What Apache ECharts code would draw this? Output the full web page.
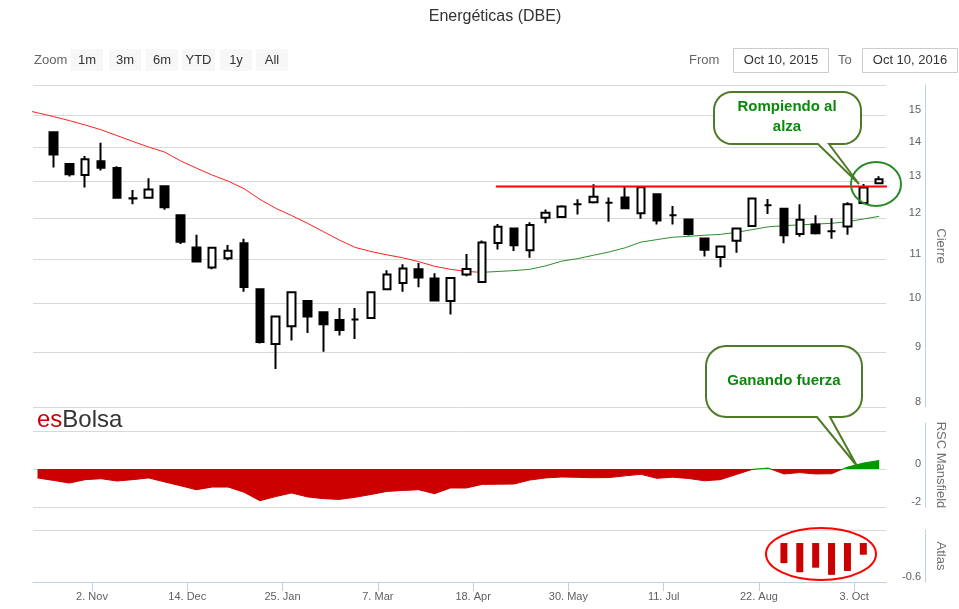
<!DOCTYPE html>
<html><head><meta charset="utf-8">
<script src="https://cdn.jsdelivr.net/npm/echarts@6/dist/echarts.min.js"></script>
<style>html,body{margin:0;padding:0;background:#fff}#c{width:959px;height:609px}</style>
</head><body><div id="c"></div>
<script>
// ---- categories (weekly, Fridays) ----
const weekDates = ['2015-10-16','2015-10-23','2015-10-30','2015-11-06','2015-11-13','2015-11-20','2015-11-27',
 '2015-12-04','2015-12-11','2015-12-18','2015-12-25','2016-01-01','2016-01-08','2016-01-15','2016-01-22','2016-01-29',
 '2016-02-05','2016-02-12','2016-02-19','2016-02-26','2016-03-04','2016-03-11','2016-03-18','2016-03-25',
 '2016-04-01','2016-04-08','2016-04-15','2016-04-22','2016-04-29','2016-05-06','2016-05-13','2016-05-20','2016-05-27',
 '2016-06-03','2016-06-10','2016-06-17','2016-06-24','2016-07-01','2016-07-08','2016-07-15','2016-07-22','2016-07-29',
 '2016-08-05','2016-08-12','2016-08-19','2016-08-26','2016-09-02','2016-09-09','2016-09-16','2016-09-23','2016-09-30',
 '2016-10-07','2016-10-14'];
const xTickDates = ['2015-11-02','2015-12-14','2016-01-25','2016-03-07','2016-04-18','2016-05-30','2016-07-11','2016-08-22','2016-10-03'];
const MONTHS = ['Jan','Feb','Mar','Apr','May','Jun','Jul','Aug','Sep','Oct','Nov','Dec'];

// ---- candles ----
const open  = [14.45,13.50,13.18,13.58,13.38,12.54,12.55,12.87,12.09,11.28,10.80,11.02,11.38,10.31,9.16,9.52,10.05,9.81,9.65,9.66,9.69,10.31,10.45,10.76,10.55,10.05,10.64,10.47,11.39,11.75,11.21,12.02,12.04,12.38,12.43,12.42,12.56,12.14,12.65,12.09,11.98,11.50,11.05,11.44,11.81,12.35,12.26,11.61,11.85,11.68,11.80,12.41,12.95];
const close = [13.78,13.20,13.64,13.39,12.55,12.53,12.78,12.30,11.42,10.94,11.27,11.20,10.36,9.20,9.72,10.24,9.72,9.56,9.44,9.66,10.24,10.64,10.78,10.57,10.06,10.56,10.77,11.40,11.79,11.33,11.84,12.15,12.32,12.38,12.58,12.42,12.27,12.84,11.95,12.09,11.61,11.22,11.30,11.75,12.53,12.35,11.58,11.97,11.63,11.68,12.38,12.83,13.06];
const low   = [13.40,13.14,12.83,13.31,12.53,12.38,12.55,12.23,11.36,10.94,10.76,10.97,10.25,9.17,8.68,9.23,9.38,9.01,9.33,9.26,9.69,10.31,10.25,10.35,10.06,9.76,10.60,10.47,11.23,11.19,11.03,11.88,12.04,12.11,12.40,11.92,12.27,12.00,11.85,11.85,11.57,11.06,10.81,11.15,11.81,12.12,11.38,11.54,11.60,11.49,11.59,12.38,12.95];
const high  = [14.45,13.50,13.73,14.13,13.43,12.76,13.09,12.87,12.09,11.59,11.27,11.34,11.49,10.31,9.72,10.26,10.05,9.81,9.90,9.90,10.26,10.74,10.88,10.91,10.67,10.56,11.12,11.45,11.86,11.75,11.91,12.24,12.35,12.51,12.92,12.56,12.85,12.86,12.65,12.33,11.98,11.50,11.30,11.75,12.53,12.52,12.27,12.38,12.09,12.01,12.43,12.93,13.15];

// ---- moving average (red while price below, green after) ----
const maBearDates = ['2015-10-02','2015-10-09'].concat(weekDates.slice(0, 28));
const maBear = [15.19,15.07,14.95,14.82,14.68,14.53,14.35,14.17,14.00,13.85,13.59,13.38,13.18,13.01,12.80,12.51,12.27,12.08,11.88,11.67,11.46,11.28,11.18,11.10,11.03,10.94,10.83,10.76,10.71,10.69];
const maBullDates = weekDates.slice(27);
const maBull = [10.69,10.71,10.73,10.76,10.84,10.95,11.01,11.09,11.17,11.27,11.41,11.47,11.53,11.55,11.58,11.60,11.65,11.72,11.79,11.82,11.84,11.86,11.88,11.92,11.99,12.06];

// ---- resistance ----
const resistDates = ['2016-04-28','2016-10-25'];
const resistLevel = 12.86;

// ---- RSC Mansfield ----
const rscDates = ['2015-10-09'].concat(weekDates);
const rsc = [-0.47,-0.60,-0.74,-0.56,-0.51,-0.63,-0.56,-0.47,-0.68,-0.88,-1.09,-0.95,-0.95,-1.22,-1.67,-1.45,-1.26,-1.47,-1.56,-1.60,-1.49,-1.34,-1.18,-1.13,-1.09,-1.30,-1.00,-1.00,-0.81,-0.80,-0.79,-0.58,-0.47,-0.42,-0.44,-0.46,-0.45,-0.36,-0.28,-0.49,-0.43,-0.50,-0.62,-0.56,-0.29,-0.02,0.05,-0.26,-0.19,-0.26,-0.25,0.10,0.31,0.45];

// ---- Atlas ----
const atlasDates = weekDates.slice(46, 52);
const atlas = [-0.31,-0.45,-0.38,-0.49,-0.43,-0.18];

// ---- axis ticks ----
const priceTicks = [8,9,10,11,12,13,14,15,16];
const priceLabels = [8,9,10,11,12,13,14,15];
const rscMin = -2, rscMax = 2.421;
const rscTicks = [-2,0,2], rscLabels = [-2,0];
const atlasTicks = [-0.6,0.2], atlasLabels = [-0.6];

function d(s){const p=s.split('-');return new Date(+p[0],+p[1]-1,+p[2]).getTime();}
const L = Math.log;
const xMin = d('2015-10-07'), xMax = d('2016-10-17');
const FONT = "'Liberation Sans', Arial, sans-serif";

const candleData = weekDates.map((t,i)=>[d(t), L(open[i]), L(close[i]), L(low[i]), L(high[i])]);
const axisLineC = '#C0D0E0', gridC = '#D8D8D8', labC = '#606060', titC = '#707070';

// layout of the three panes
const G = {left:33, right:73, p1:{top:85, h:322}, p2:{top:423, h:84}, p3:{top:530, h:52}};

function yAx(grid, min, max, ticks, labels, fmt, name){
  return {type:'value', gridIndex:grid, position:'right', offset:39, min:min, max:max,
    axisLine:{show:true, onZero:false, lineStyle:{color:axisLineC, width:1}},
    axisTick:{show:false, customValues:ticks},
    axisLabel:{customValues:labels, inside:true, margin:4, verticalAlign:'bottom', formatter:fmt,
      color:labC, fontSize:11, fontFamily:FONT},
    splitLine:{show:true, lineStyle:{color:gridC, width:1}},
    name:name, nameLocation:'middle', nameRotate:-90, nameGap:-2,
    nameTextStyle:{color:titC, fontSize:13, fontFamily:FONT}};
}

// red below zero / green above zero, split where the RSC axis crosses 0
const zeroOff = rscMax/(rscMax-rscMin);
const rscFill = new echarts.graphic.LinearGradient(0, G.p2.top, 0, G.p2.top+G.p2.h, [
  {offset:0, color:'#009900'},{offset:zeroOff, color:'#009900'},
  {offset:zeroOff, color:'#cc0000'},{offset:1, color:'#cc0000'}], true);

// callout outline: rounded rectangle with a tail on the bottom edge
function bubble(x1,y1,x2,y2,r,tb1,tb2,tip){
  const pts=[];
  function arc(cx,cy,a0,a1){for(let k=0;k<=8;k++){const a=(a0+(a1-a0)*k/8)*Math.PI/180;pts.push([cx+r*Math.cos(a),cy+r*Math.sin(a)]);}}
  arc(x2-r,y1+r,-90,0);
  arc(x2-r,y2-r,0,90);
  pts.push([tb2,y2],tip,[tb1,y2]);
  arc(x1+r,y2-r,90,180);
  arc(x1+r,y1+r,180,270);
  return pts;
}

const bubbleStroke = '#4f7b28', bubbleText = '#0a8a0a';
const btns = [['1m',71,103],['3m',109,141],['6m',146,178],['YTD',182,215],['1y',220,252],['All',256,288]];
const graphics = [
  {type:'text', z:100, style:{x:495, y:17, text:'Energéticas (DBE)', align:'center', verticalAlign:'middle', font:'16px '+FONT, fill:'#333'}},
  {type:'text', z:100, style:{x:34, y:60, text:'Zoom', verticalAlign:'middle', font:'13px '+FONT, fill:'#666'}},
  {type:'text', z:100, style:{x:689, y:60, text:'From', verticalAlign:'middle', font:'13px '+FONT, fill:'#666'}},
  {type:'rect', z:100, shape:{x:733.5, y:48.5, width:95, height:24}, style:{fill:'#fff', stroke:'#ccc', lineWidth:1}},
  {type:'text', z:101, style:{x:781, y:60, text:'Oct 10, 2015', align:'center', verticalAlign:'middle', font:'13px '+FONT, fill:'#333'}},
  {type:'text', z:100, style:{x:838, y:60, text:'To', verticalAlign:'middle', font:'13px '+FONT, fill:'#666'}},
  {type:'rect', z:100, shape:{x:862.5, y:48.5, width:95, height:24}, style:{fill:'#fff', stroke:'#ccc', lineWidth:1}},
  {type:'text', z:101, style:{x:910, y:60, text:'Oct 10, 2016', align:'center', verticalAlign:'middle', font:'13px '+FONT, fill:'#333'}},
  {type:'text', z:100, style:{x:37, y:420, text:'{a|es}{b|Bolsa}', verticalAlign:'middle',
    rich:{a:{fill:'#cc0000', font:'24px '+FONT}, b:{fill:'#333', font:'24px '+FONT}}}},
  {type:'polygon', z:100, shape:{points:bubble(714,92,861,144,18,818,829,[859,184])},
    style:{fill:'#fff', stroke:bubbleStroke, lineWidth:2}},
  {type:'text', z:101, style:{x:787, y:107, text:'Rompiendo al', align:'center', verticalAlign:'middle', font:'bold 15px '+FONT, fill:bubbleText}},
  {type:'text', z:101, style:{x:787, y:127, text:'alza', align:'center', verticalAlign:'middle', font:'bold 15px '+FONT, fill:bubbleText}},
  {type:'ellipse', z:100, shape:{cx:876, cy:184, rx:25, ry:22}, style:{fill:'none', stroke:'#2a8a2a', lineWidth:2}},
  {type:'polygon', z:100, shape:{points:bubble(706,346,862,417,20,817,830,[857,466])},
    style:{fill:'#fff', stroke:bubbleStroke, lineWidth:2}},
  {type:'text', z:101, style:{x:784, y:381, text:'Ganando fuerza', align:'center', verticalAlign:'middle', font:'bold 15px '+FONT, fill:bubbleText}},
  {type:'ellipse', z:100, shape:{cx:821, cy:554, rx:55, ry:26}, style:{fill:'none', stroke:'#ff0000', lineWidth:2}}
];
btns.forEach(b=>{
  graphics.push({type:'rect', z:100, shape:{x:b[1], y:49, width:b[2]-b[1], height:22}, style:{fill:'#f7f7f7'}});
  graphics.push({type:'text', z:101, style:{x:(b[1]+b[2])/2, y:60, text:b[0], align:'center', verticalAlign:'middle', font:'13px '+FONT, fill:'#333'}});
});

const chart = echarts.init(document.getElementById('c'), null, {renderer:'canvas'});
chart.setOption({
  animation:false,
  backgroundColor:'#fff',
  textStyle:{fontFamily:FONT},
  grid:[
    {left:G.left, right:G.right, top:G.p1.top, height:G.p1.h},
    {left:G.left, right:G.right, top:G.p2.top, height:G.p2.h},
    {left:G.left, right:G.right, top:G.p3.top, height:G.p3.h}
  ],
  xAxis:[
    {type:'value', gridIndex:0, min:xMin, max:xMax, show:false},
    {type:'value', gridIndex:1, min:xMin, max:xMax, show:false},
    {type:'value', gridIndex:2, min:xMin, max:xMax, position:'bottom',
      axisLine:{show:true, onZero:false, lineStyle:{color:axisLineC}},
      axisTick:{show:true, customValues:xTickDates.map(d), length:9, lineStyle:{color:axisLineC}},
      axisLabel:{customValues:xTickDates.map(d), color:labC, fontSize:11, margin:9, fontFamily:FONT,
        formatter:function(v){const t=new Date(v);return t.getDate()+'. '+MONTHS[t.getMonth()];}},
      splitLine:{show:false}}
  ],
  yAxis:[
    yAx(0, L(8), L(16), priceTicks.map(L), priceLabels.map(L), v=>String(Math.round(Math.exp(v))), 'Cierre'),
    yAx(1, rscMin, rscMax, rscTicks, rscLabels, v=>String(Math.round(v)), 'RSC Mansfield'),
    yAx(2, -0.6, 0.2, atlasTicks, atlasLabels, v=>v.toFixed(1), 'Atlas')
  ],
  series:[
    {type:'line', xAxisIndex:0, yAxisIndex:0, data:maBearDates.map((t,i)=>[d(t), L(maBear[i])]),
      symbol:'none', lineStyle:{color:'#ff2020', width:1}, z:1, silent:true},
    {type:'line', xAxisIndex:0, yAxisIndex:0, data:maBullDates.map((t,i)=>[d(t), L(maBull[i])]),
      symbol:'none', lineStyle:{color:'#2f8f2f', width:1}, z:1, silent:true},
    {type:'candlestick', xAxisIndex:0, yAxisIndex:0, data:candleData, barWidth:8, z:3,
      itemStyle:{color:'#ffffff', color0:'#000000', borderColor:'#000000', borderColor0:'#000000', borderWidth:2}},
    {type:'line', xAxisIndex:0, yAxisIndex:0, clip:false, data:resistDates.map(t=>[d(t), L(resistLevel)]),
      symbol:'none', lineStyle:{color:'#ff0000', width:2}, z:4, silent:true},
    {type:'line', xAxisIndex:1, yAxisIndex:1, data:rscDates.map((t,i)=>[d(t), rsc[i]]),
      symbol:'none', lineStyle:{width:1, color:rscFill}, areaStyle:{opacity:1, color:rscFill, origin:'auto'}, z:2, silent:true},
    {type:'bar', xAxisIndex:2, yAxisIndex:2, data:atlasDates.map((t,i)=>[d(t), atlas[i]]),
      barWidth:7, itemStyle:{color:'#cc0000'}, silent:true}
  ],
  graphic:{elements:graphics}
});
</script></body></html>
